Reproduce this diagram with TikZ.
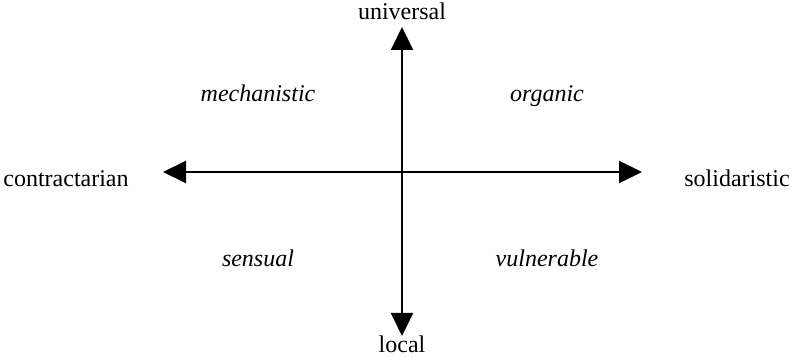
\documentclass[tikz,border=0pt]{standalone}
\usepackage{fontspec}
\setmainfont{Liberation Serif}
\usetikzlibrary{arrows.meta}
\begin{document}
\begin{tikzpicture}[x=0.5pt,y=-0.5pt,
  lbl/.style={inner sep=0pt,anchor=base,font=\fontsize{12}{14}\selectfont},
  qlbl/.style={lbl,font=\fontsize{12}{14}\selectfont\itshape},
  axis/.style={line width=1pt,{Triangle[length=11.5pt,width=11pt]}-{Triangle[length=11.5pt,width=11pt]}}]
\useasboundingbox (0,0) rectangle (791,357);
\coordinate (L) at (163,172);
\coordinate (R) at (642,172);
\coordinate (T) at (402,27);
\coordinate (B) at (402,336);
\draw[axis] (L) -- (R);
\draw[axis] (T) -- (B);
\node[lbl] (universal) at (402,20) {universal};
\node[lbl] (local) at (402,352) {local};
\node[lbl] (contractarian) at (66,187) {contractarian};
\node[lbl] (solidaristic) at (737,187) {solidaristic};
\node[qlbl] (mechanistic) at (258,102) {mechanistic};
\node[qlbl] (organic) at (547,102) {organic};
\node[qlbl] (sensual) at (258,267) {sensual};
\node[qlbl] (vulnerable) at (547,267) {vulnerable};
\end{tikzpicture}
\end{document}
